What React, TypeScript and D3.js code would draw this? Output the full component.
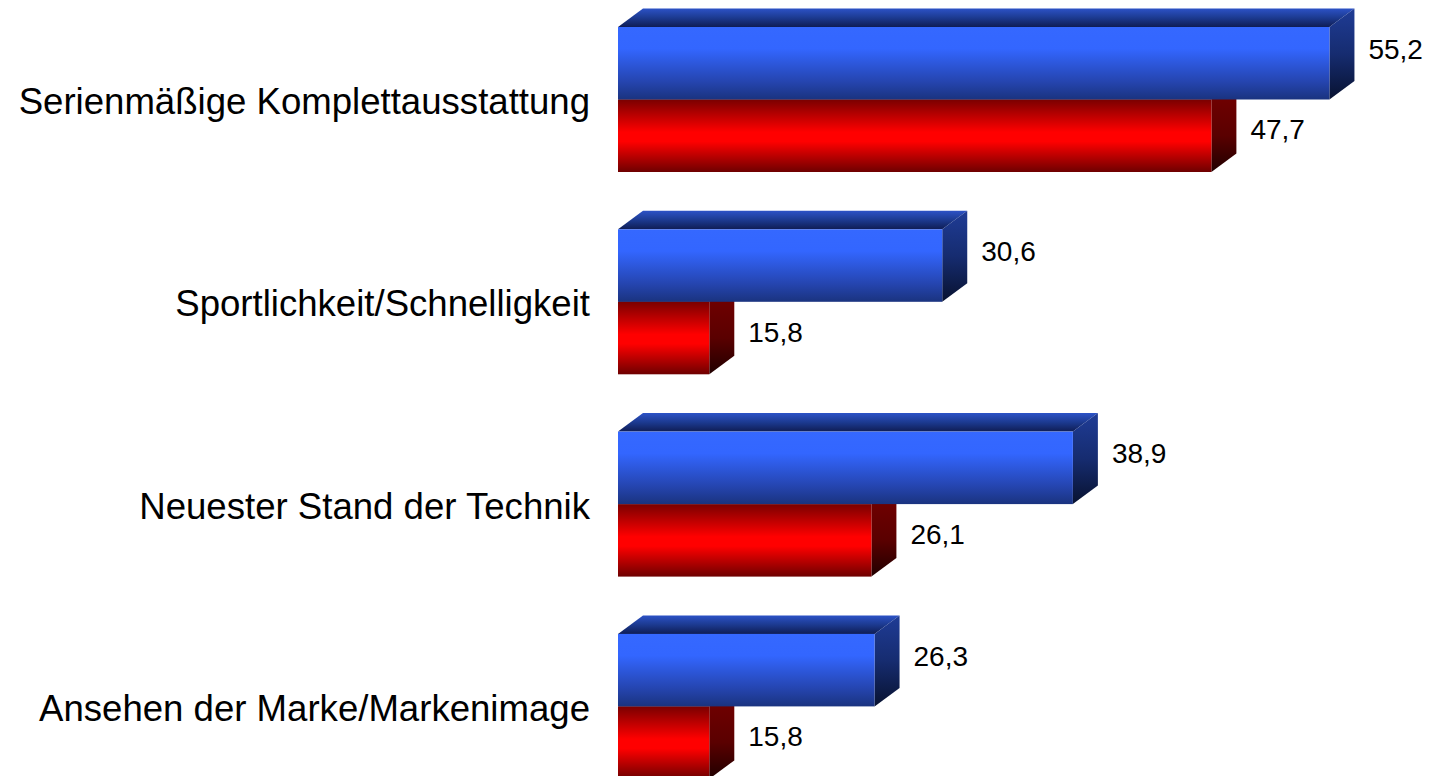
import React from "react";
import * as d3 from "d3";

const categories = [
  "Serienmäßige Komplettausstattung",
  "Sportlichkeit/Schnelligkeit",
  "Neuester Stand der Technik",
  "Ansehen der Marke/Markenimage",
];
const seriesKeys = ["blue", "red"];
const blueValues = [55.2, 30.6, 38.9, 26.3];
const redValues = [47.7, 15.8, 26.1, 15.8];

const W = 1434;
const H = 776;
const DX = 25;
const DY = 18.5;

const fmt = (v: number) => v.toFixed(1).replace(".", ",");

export default function App() {
  const x = d3.scaleLinear().domain([10, 60]).range([618, 1405]);
  const y = d3
    .scaleBand<string>()
    .domain(categories)
    .range([27, 27 + 3 * 202.3 + 145])
    .paddingInner(57.3 / 202.3)
    .paddingOuter(0);
  const inner = d3.scaleBand<string>().domain(seriesKeys).range([0, y.bandwidth()]).padding(0);

  const bars: React.ReactNode[] = [];
  const labels: React.ReactNode[] = [];

  categories.forEach((c, i) => {
    const gy = y(c)!;
    const items = [
      { key: "red", v: redValues[i] },
      { key: "blue", v: blueValues[i] },
    ];
    items.forEach((it) => {
      const y0 = gy + inner(it.key)!;
      const y1 = y0 + inner.bandwidth();
      const x0 = x(10);
      const x1 = x(it.v);
      const pre = it.key;
      const top = `M${x0},${y0} L${x0 + DX},${y0 - DY} L${x1 + DX},${y0 - DY} L${x1},${y0} Z`;
      const side = `M${x1},${y0} L${x1 + DX},${y0 - DY} L${x1 + DX},${y1 - DY} L${x1},${y1} Z`;
      bars.push(
        <g key={`${c}-${it.key}`}>
          <path d={top} fill={`url(#${pre}Top)`} />
          <path d={side} fill={`url(#${pre}Side)`} />
          <rect x={x0} y={y0} width={x1 - x0} height={y1 - y0} fill={`url(#${pre}Front)`} />
        </g>
      );
      const cy = (y0 + y1) / 2 + (it.key === "blue" ? -14 : -6);
      labels.push(
        <text
          key={`lab-${c}-${it.key}`}
          x={x1 + DX + 14}
          y={cy}
          dominantBaseline="central"
          fontSize={28}
          fontFamily="Liberation Sans, Arial, sans-serif"
          fill="#000"
        >
          {fmt(it.v)}
        </text>
      );
    });
  });

  return (
    <svg
      width={W}
      height={H}
      style={{ position: "absolute", left: 0, top: 0, background: "#fff" }}
    >
      <defs>
        <linearGradient id="blueFront" x1="0" y1="0" x2="0" y2="1">
          <stop offset="0" stopColor="#3568ff" />
          <stop offset="0.3" stopColor="#3366ff" />
          <stop offset="0.75" stopColor="#2545b0" />
          <stop offset="1" stopColor="#1a337f" />
        </linearGradient>
        <linearGradient id="blueTop" x1="0" y1="0" x2="0" y2="1">
          <stop offset="0" stopColor="#2c52c6" />
          <stop offset="0.5" stopColor="#1c3a90" />
          <stop offset="1" stopColor="#0f1d55" />
        </linearGradient>
        <linearGradient id="blueSide" x1="0" y1="0" x2="0" y2="1">
          <stop offset="0" stopColor="#1f3c96" />
          <stop offset="0.5" stopColor="#162c70" />
          <stop offset="1" stopColor="#081230" />
        </linearGradient>
        <linearGradient id="redFront" x1="0" y1="0" x2="0" y2="1">
          <stop offset="0" stopColor="#7a0000" />
          <stop offset="0.45" stopColor="#ff0000" />
          <stop offset="0.58" stopColor="#ff0000" />
          <stop offset="1" stopColor="#6e0000" />
        </linearGradient>
        <linearGradient id="redTop" x1="0" y1="0" x2="0" y2="1">
          <stop offset="0" stopColor="#a00000" />
          <stop offset="1" stopColor="#600000" />
        </linearGradient>
        <linearGradient id="redSide" x1="0" y1="0" x2="0" y2="1">
          <stop offset="0" stopColor="#780000" />
          <stop offset="0.6" stopColor="#5a0000" />
          <stop offset="1" stopColor="#200000" />
        </linearGradient>
      </defs>
      {bars}
      {labels}
      {categories.map((c) => (
        <text
          key={`cat-${c}`}
          x={590}
          y={y(c)! + y.bandwidth() / 2 + 2}
          textAnchor="end"
          dominantBaseline="central"
          fontSize={36.6}
          fontFamily="Liberation Sans, Arial, sans-serif"
          fill="#000"
        >
          {c}
        </text>
      ))}
    </svg>
  );
}
